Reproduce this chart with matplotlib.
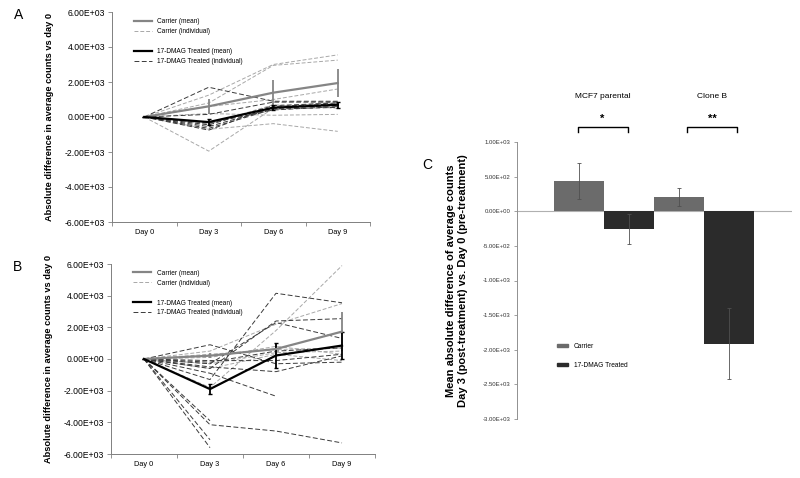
import numpy as np
import matplotlib
matplotlib.use("Agg")
import matplotlib.pyplot as plt
from matplotlib.lines import Line2D
from matplotlib.patches import Patch

plt.rcParams['font.family'] = ['Liberation Sans', 'DejaVu Sans']

nan = np.nan
days = ['Day 0', 'Day 3', 'Day 6', 'Day 9']

# Panel A
a_carrier_mean = [0, 610, 1390, 1940]
a_carrier_err = [0, 410, 700, 810]
a_treated_mean = [0, -290, 530, 700]
a_treated_err = [0, 190, 150, 180]
a_carrier_ind = [
    [0, 1250, 3000, 3550],
    [0, 800, 2950, 3250],
    [0, -1950, 500, 900],
    [0, -700, -380, -820],
    [0, 600, 1000, 1600],
    [0, 200, 100, 150],
    [0, -400, 700, 500],
]
a_treated_ind = [
    [0, 1700, 900, 900],
    [0, 150, 850, 850],
    [0, -450, 650, 800],
    [0, -550, 500, 650],
    [0, -650, 450, 550],
    [0, -750, 600, 750],
    [0, -350, 400, 600],
]

# Panel B
b_carrier_mean = [0, 210, 630, 1730]
b_carrier_err = [0, 150, 400, 1250]
b_treated_mean = [0, -1900, 220, 850]
b_treated_err = [0, 330, 800, 850]
b_carrier_ind = [
    [0, -1800, 1800, 5900],
    [0, 500, 2200, 3500],
    [0, 300, 600, 700],
    [0, -300, 400, 500],
    [0, 100, 800, 300],
    [0, -600, 300, -100],
]
b_treated_ind = [
    [0, -3900, nan, nan],
    [0, -5100, nan, nan],
    [0, -5600, nan, nan],
    [0, -4150, -4550, -5300],
    [0, 900, -300, -200],
    [0, -1300, 4150, 3550],
    [0, -600, 2400, 2550],
    [0, -300, 2300, 1300],
    [0, -900, -2350, nan],
    [0, -500, -800, 200],
    [0, -200, 500, 700],
    [0, -100, -100, 300],
]

# Panel C
c_groups = ['MCF7 parental', 'Clone B']
c_sig = ['*', '**']
c_carrier = [435, 207]
c_carrier_err = [260, 125]
c_treated = [-261, -1913]
c_treated_err = [218, 510]

W, H = 800, 478
fig = plt.figure(figsize=(8, 4.78), dpi=100)

def axrect(l, t, r, b):
    return [l / W, 1 - b / H, (r - l) / W, (b - t) / H]

def sci(v, pos=None):
    return f"{v:.2E}"

C_IND = '#a8a8a8'
T_IND = '#3a3a3a'
C_MEAN = '#858585'

def line_panel(ax, cm, ce, tm, te, cind, tind, label):
    x = np.arange(len(days))
    for row in cind:
        ax.plot(x, row, ls=(0, (4, 2)), color=C_IND, lw=0.7)
    for row in tind:
        ax.plot(x, row, ls=(0, (5, 2.5)), color=T_IND, lw=0.7)
    ax.errorbar(x, cm, yerr=ce, color=C_MEAN, lw=1.6, elinewidth=1.3, capsize=0)
    ax.errorbar(x, tm, yerr=te, color='black', lw=1.6, elinewidth=1.3, capsize=1.5)
    ax.set_xlim(-0.5, 3.5)
    ax.set_ylim(-6000, 6000)
    ax.set_yticks(np.arange(-6000, 6001, 2000))
    ax.yaxis.set_major_formatter(plt.FuncFormatter(sci))
    ax.set_xticks(x)
    ax.set_xticklabels(days)
    ax.set_xticks(np.arange(-0.5, 3.6, 1), minor=True)
    ax.tick_params(axis='x', which='major', length=0, labelsize=5.3, pad=5)
    ax.tick_params(axis='x', which='minor', length=3, color='#808080', width=0.6)
    ax.tick_params(axis='y', length=3, color='#808080', width=0.6, labelsize=6.2, pad=2)
    for s in ['top', 'right']:
        ax.spines[s].set_visible(False)
    for s in ['left', 'bottom']:
        ax.spines[s].set_color('#808080')
        ax.spines[s].set_linewidth(0.7)
    ax.set_ylabel('Absolute difference in average counts vs day 0', fontsize=6.7,
                  fontweight='bold', labelpad=8)
    handles = [
        Line2D([], [], color=C_MEAN, lw=1.6),
        Line2D([], [], color=C_IND, lw=0.7, ls=(0, (4, 2))),
        Line2D([], [], color='none'),
        Line2D([], [], color='black', lw=1.6),
        Line2D([], [], color=T_IND, lw=0.7, ls=(0, (5, 2.5))),
    ]
    labels = ['Carrier (mean)', 'Carrier (individual)', ' ', '17-DMAG Treated (mean)',
              '17-DMAG Treated (individual)']
    ax.legend(handles, labels, loc='upper left', bbox_to_anchor=(0.085, 0.97),
              frameon=False, fontsize=4.7, borderpad=0, borderaxespad=0,
              handlelength=2.7, handletextpad=0.9, labelspacing=0.45)
    fig.text(ax.get_position().x0 - 98 / W, ax.get_position().y1 - 3 / H, label,
             fontsize=10, ha='left', va='center')

axA = fig.add_axes(axrect(112, 12, 370, 222))
line_panel(axA, a_carrier_mean, a_carrier_err, a_treated_mean, a_treated_err,
           a_carrier_ind, a_treated_ind, 'A')
axB = fig.add_axes(axrect(111, 264, 375, 454))
line_panel(axB, b_carrier_mean, b_carrier_err, b_treated_mean, b_treated_err,
           b_carrier_ind, b_treated_ind, 'B')

# Panel C
axC = fig.add_axes(axrect(517, 142, 792, 419))
gx = np.arange(len(c_groups)) * 2.0
car_col = '#6b6b6b'
trt_col = '#2b2b2b'
axC.bar(gx + 0.5, c_carrier, width=1.0, color=car_col, zorder=2)
axC.bar(gx + 1.5, c_treated, width=1.0, color=trt_col, zorder=2)
axC.errorbar(gx + 0.5, c_carrier, yerr=c_carrier_err, fmt='none', ecolor='#505050',
             elinewidth=0.6, capsize=1.2, capthick=0.6, zorder=3)
axC.errorbar(gx + 1.5, c_treated, yerr=c_treated_err, fmt='none', ecolor='#505050',
             elinewidth=0.6, capsize=1.2, capthick=0.6, zorder=3)
axC.set_xlim(-0.74, 4.76)
axC.set_ylim(-3000, 1000)
axC.set_yticks(np.arange(-3000, 1001, 500))
axC.yaxis.set_major_formatter(plt.FuncFormatter(sci))
axC.set_xticks([])
axC.axhline(0, color='#b0b0b0', lw=0.8, zorder=1)
for s in ['top', 'right', 'bottom']:
    axC.spines[s].set_visible(False)
axC.spines['left'].set_color('#909090')
axC.spines['left'].set_linewidth(0.7)
axC.tick_params(axis='y', length=2.5, color='#909090', width=0.6, labelsize=4.3,
                labelcolor='#333333', pad=2)
axC.set_ylabel('Mean absolute difference of average counts\n'
               'Day 3 (post-treatment) vs. Day 0 (pre-treatment)',
               fontsize=8.0, fontweight='bold', labelpad=11, linespacing=1.15)
for i, (g, s) in enumerate(zip(c_groups, c_sig)):
    cx = gx[i] + 1.0 + (0.16 if i == 1 else -0.03)
    axC.text(cx, 1650, g, ha='center', va='center', fontsize=6.0, clip_on=False)
    axC.text(cx, 1330, s, ha='center', va='center', fontsize=8, fontweight='bold', clip_on=False)
    axC.plot([cx - 0.5, cx - 0.5, cx + 0.5, cx + 0.5], [1140, 1214, 1214, 1140],
             color='black', lw=1.0, clip_on=False)
axC.legend([Patch(color=car_col), Patch(color=trt_col)], ['Carrier', '17-DMAG Treated'],
           loc='upper left', bbox_to_anchor=(0.145, 0.275), frameon=False, fontsize=4.8,
           borderpad=0, borderaxespad=0, handlelength=1.6, handleheight=0.5,
           handletextpad=0.9, labelspacing=1.8)
fig.text(427 / W, 1 - 165 / H, 'C', fontsize=10, ha='center', va='center')

fig.savefig('out.png', dpi=100)
